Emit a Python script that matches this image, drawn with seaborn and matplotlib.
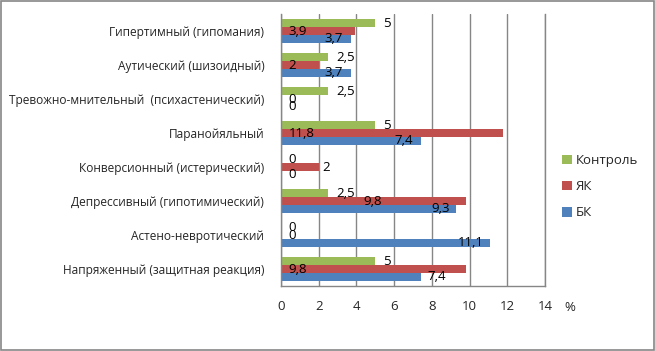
import numpy as np
import pandas as pd
import seaborn as sns
import matplotlib.pyplot as plt
from matplotlib.patches import Patch, Rectangle

types = ['Гипертимный (гипомания)', 'Аутический (шизоидный)',
         'Тревожно-мнительный  (психастенический)', 'Паранойяльный',
         'Конверсионный (истерический)', 'Депрессивный (гипотимический)',
         'Астено-невротический', 'Напряженный (защитная реакция)']
control = [5, 2.5, 2.5, 5, 0, 2.5, 0, 5]
yak = [3.9, 2, 0, 11.8, 2, 9.8, 0, 9.8]
bk = [3.7, 3.7, 0, 7.4, 0, 9.3, 11.1, 7.4]
groups = ['Контроль', 'ЯК', 'БК']
colors = ['#9BBB59', '#C0504D', '#4F81BD']

# where excel left the data labels (left edge, x units)
label_x = {
    'Контроль': [5.41, 2.92, 2.92, 5.41, 0.37, 2.92, 0.37, 5.41],
    'ЯК': [0.37, 0.37, 0.37, 0.42, 2.17, 4.35, 0.37, 0.37],
    'БК': [2.28, 2.28, 0.37, 6.04, 0.37, 7.95, 9.38, 7.79],
}

df = pd.DataFrame({
    'type': types * 3,
    'group': np.repeat(groups, len(types)),
    'value': control + yak + bk,
})

sns.set_style('white')
plt.rcParams['font.family'] = ['Open Sans', 'DejaVu Sans']
fs = 9.0
plt.rcParams['font.size'] = fs

fig = plt.figure(figsize=(6.55, 3.51), dpi=100)
fig.patches.append(Rectangle((0.001, 0.002), 0.997, 0.995, transform=fig.transFigure,
                             fill=False, edgecolor='#868686', lw=1.2))
ax = fig.add_axes([0.429, 0.185, 0.403, 0.775])

sns.barplot(data=df, x='value', y='type', hue='group', hue_order=groups, orient='h',
            palette=colors, saturation=1, width=0.7, linewidth=0, legend=False, ax=ax)

for g, cont in zip(groups, ax.containers):
    for i, bar in enumerate(cont):
        v = bar.get_width()
        yc = bar.get_y() + bar.get_height() / 2
        ax.text(label_x[g][i], yc, f'{v:g}'.replace('.', ','), ha='left', va='center',
                fontsize=fs + 0.5, color='black')

ax.set_xlim(0, 14)
ax.set_xticks(np.arange(0, 15, 2))
ax.set_xlabel('')
ax.set_ylabel('')
ax.grid(axis='x', color='#868686', lw=1)
ax.set_axisbelow(True)
ax.spines['top'].set_visible(False)
for s in ['left', 'bottom', 'right']:
    ax.spines[s].set_color('#868686')
    ax.spines[s].set_linewidth(1)
ax.tick_params(axis='x', length=0, pad=10, labelsize=fs + 0.5)
ax.tick_params(axis='y', length=0, pad=12, labelsize=8.6)

fig.text(0.862, 0.125, '%', fontsize=fs + 0.5, va='center', ha='left')

handles = [Patch(facecolor=c, edgecolor='none') for c in colors]
fig.legend(handles, groups, loc='upper left', bbox_to_anchor=(0.84, 0.595), frameon=False,
           handlelength=0.75, handleheight=0.75, handletextpad=0.3, labelspacing=1.0,
           fontsize=fs + 0.5)

fig.savefig('out.png', dpi=100)
